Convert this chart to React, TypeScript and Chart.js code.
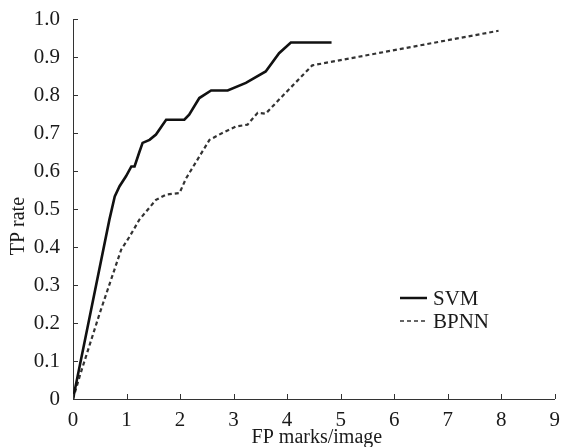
import React, { useEffect, useRef } from "react";
import { Chart, registerables } from "chart.js";

Chart.register(...registerables);

// ---- Data ----
const seriesNames = ["SVM", "BPNN"];
const xTitle = "FP marks/image";
const yTitle = "TP rate";
const xMin = 0;
const xMax = 9;
const yMin = 0;
const yMax = 1.0;

const svmX = [0, 0.68, 0.78, 0.87, 0.99, 1.09, 1.15, 1.24, 1.3, 1.43, 1.55, 1.74, 2.08, 2.17, 2.36, 2.58, 2.89, 3.23, 3.6, 3.85, 4.07, 4.83];
const svmY = [0, 0.472, 0.533, 0.56, 0.586, 0.612, 0.612, 0.65, 0.674, 0.682, 0.696, 0.735, 0.735, 0.748, 0.792, 0.812, 0.812, 0.832, 0.862, 0.91, 0.938, 0.938];

const bpnnX = [0, 0.125, 0.5, 0.9, 1.06, 1.24, 1.55, 1.74, 1.99, 2.11, 2.36, 2.55, 2.79, 3.04, 3.26, 3.45, 3.6, 3.85, 4.47, 7.95];
const bpnnY = [0, 0.06, 0.226, 0.393, 0.428, 0.472, 0.524, 0.538, 0.542, 0.58, 0.638, 0.682, 0.7, 0.717, 0.722, 0.753, 0.751, 0.788, 0.878, 0.969];

const FONT = "'Liberation Serif', 'Times New Roman', serif";

const toPoints = (xs: number[], ys: number[]) => xs.map((x, i) => ({ x, y: ys[i] }));

const overlayPlugin = {
  id: "overlay",
  afterDraw(chart: any) {
    const { ctx, chartArea, scales } = chart;
    const xs = scales.x;
    const ys = scales.y;
    ctx.save();
    // inward tick marks
    ctx.strokeStyle = "#333";
    ctx.lineWidth = 1;
    xs.ticks.forEach((t: any) => {
      const px = Math.round(xs.getPixelForValue(t.value)) + 0.5;
      ctx.beginPath();
      ctx.moveTo(px, chartArea.bottom);
      ctx.lineTo(px, chartArea.bottom - 5);
      ctx.stroke();
    });
    ys.ticks.forEach((t: any) => {
      const py = Math.round(ys.getPixelForValue(t.value)) + 0.5;
      ctx.beginPath();
      ctx.moveTo(chartArea.left, py);
      ctx.lineTo(chartArea.left + 5, py);
      ctx.stroke();
    });

    // titles
    ctx.fillStyle = "#1a1a1a";
    ctx.font = `20px ${FONT}`;
    ctx.textAlign = "center";
    ctx.textBaseline = "alphabetic";
    ctx.fillText(xTitle, (chartArea.left + chartArea.right) / 2 + 3, 443);

    ctx.save();
    ctx.translate(24, ys.getPixelForValue(0.455));
    ctx.rotate(-Math.PI / 2);
    ctx.fillText(yTitle, 0, 0);
    ctx.restore();

    // legend
    const lx0 = 400;
    const lx1 = 427;
    const ly = [298, 321];
    ctx.strokeStyle = "#111";
    ctx.lineWidth = 2.5;
    ctx.beginPath();
    ctx.moveTo(lx0, ly[0]);
    ctx.lineTo(lx1, ly[0]);
    ctx.stroke();
    ctx.strokeStyle = "#333";
    ctx.lineWidth = 1.5;
    ctx.setLineDash([4, 3]);
    ctx.beginPath();
    ctx.moveTo(lx0, ly[1]);
    ctx.lineTo(lx1, ly[1]);
    ctx.stroke();
    ctx.setLineDash([]);
    ctx.font = `21px ${FONT}`;
    ctx.textAlign = "left";
    ctx.textBaseline = "middle";
    ctx.fillText(seriesNames[0], 433, ly[0] + 1);
    ctx.fillText(seriesNames[1], 433, ly[1] + 1);
    ctx.restore();
  },
};

export default function App() {
  const ref = useRef<HTMLCanvasElement | null>(null);

  useEffect(() => {
    document.body.style.margin = "0";
    if (!ref.current) return;
    const chart = new Chart(ref.current, {
      type: "line",
      data: {
        datasets: [
          {
            label: seriesNames[0],
            data: toPoints(svmX, svmY),
            borderColor: "#111",
            borderWidth: 2.6,
            pointRadius: 0,
            tension: 0,
            fill: false,
          },
          {
            label: seriesNames[1],
            data: toPoints(bpnnX, bpnnY),
            borderColor: "#333",
            borderWidth: 2.2,
            borderDash: [4, 3],
            pointRadius: 0,
            tension: 0,
            fill: false,
          },
        ],
      },
      options: {
        responsive: false,
        animation: false,
        layout: { padding: { top: 19, right: 4, left: 0, bottom: 0 } },
        plugins: {
          legend: { display: false },
          tooltip: { enabled: false },
        },
        scales: {
          x: {
            type: "linear",
            min: xMin,
            max: xMax,
            ticks: {
              stepSize: 1,
              color: "#1a1a1a",
              font: { family: FONT, size: 21 },
              padding: 1,
              maxRotation: 0,
            },
            grid: { display: false },
            border: { display: true, color: "#333", width: 1 },
            afterFit: (s: any) => {
              s.height = 48;
            },
          },
          y: {
            type: "linear",
            min: yMin,
            max: yMax,
            ticks: {
              stepSize: 0.1,
              color: "#1a1a1a",
              font: { family: FONT, size: 21 },
              padding: 5,
              callback: (v: any) => (v === 0 ? "0" : Number(v).toFixed(1)),
            },
            grid: { display: false },
            border: { display: true, color: "#333", width: 1 },
            afterFit: (s: any) => {
              s.width = 73;
            },
          },
        },
      },
      plugins: [overlayPlugin],
    });
    return () => chart.destroy();
  }, []);

  return (
    <div style={{ width: 561, height: 447, background: "#fff" }}>
      <canvas ref={ref} width={561} height={447} style={{ display: "block" }} />
    </div>
  );
}
